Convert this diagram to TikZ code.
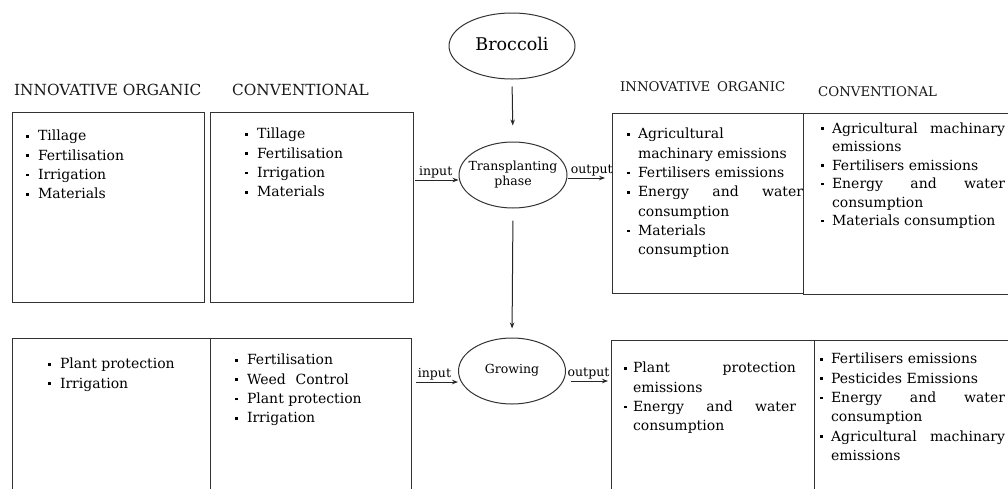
\documentclass[tikz,border=0pt]{standalone}
\usepackage{fontspec}
\setmainfont{DejaVu Serif}
\usetikzlibrary{shapes.geometric,arrows.meta}
\newlength\bhang
\newcommand\bul{\raisebox{0.22em}{\rule{2.6pt}{2.6pt}}}
\newcommand\itm[1]{\par\noindent\hangindent=\bhang\hangafter=1\strut\makebox[\bhang][l]{\bul}#1\par}
\newcommand\inell[1]{\makebox[0pt][c]{\begin{tabular}{@{}c@{}}#1\end{tabular}}}
\tikzset{
 box/.style={draw=black!80, line width=1pt, rectangle, inner sep=0, outer sep=0, anchor=north west},
 list/.style={anchor=north west, inner sep=0, outer sep=0, align=justify, font=\fontsize{14}{19.3}\selectfont, text=black},
 hdr/.style={anchor=west, inner sep=0, font=\fontsize{15.3}{18}\selectfont, text=black!90},
 hdrs/.style={anchor=west, inner sep=0, font=\fontsize{13.3}{16}\selectfont, text=black!90},
 phase/.style={ellipse, draw=black!80, line width=1pt, inner sep=0, font=\fontsize{12.5}{14.5}\selectfont},
 conn/.style={-{Stealth[length=6pt,width=4.5pt]}, line width=1pt, draw=black!85},
 lbl/.style={font=\fontsize{12.5}{14}\selectfont, inner sep=1.5pt}
}
\begin{document}
\begin{tikzpicture}[x=1pt,y=-1pt]
\useasboundingbox[fill=white] (0,0) rectangle (1008,488);
% headers
\node[hdr] (h1) at (14,90) {INNOVATIVE ORGANIC};
\node[hdr] (h2) at (232,90) {CONVENTIONAL};
\node[hdrs] (h3) at (620,87) {INNOVATIVE\hspace{0.5em}ORGANIC};
\node[hdrs] (h4) at (818,92) {CONVENTIONAL};
% boxes
\node[box, minimum width=192, minimum height=190] (b1) at (12,112) {};
\node[box, minimum width=203, minimum height=190] (b2) at (210,112) {};
\node[box, minimum width=198, minimum height=170] (b3) at (12,338) {};
\node[box, minimum width=201, minimum height=170] (b4) at (210,338) {};
\node[box, minimum width=191, minimum height=180] (b5) at (612,113) {};
\node[box, minimum width=220, minimum height=181] (b6) at (803,113) {};
\node[box, minimum width=203, minimum height=170] (b7) at (611,340) {};
\node[box, minimum width=210, minimum height=170] (b8) at (814,340) {};
% lists
\node[list, text width=178] (t1) at (26,121.5) {\setlength\bhang{12pt}%
\itm{Tillage}\itm{Fertilisation}\itm{Irrigation}\itm{Materials}};
\node[list, text width=165] (t2) at (245,119.5) {\setlength\bhang{12pt}%
\itm{Tillage}\itm{Fertilisation}\itm{Irrigation}\itm{Materials}};
\node[list, text width=160] (t3) at (48,349.5) {\setlength\bhang{12pt}%
\itm{Plant protection}\itm{Irrigation}};
\node[list, text width=170] (t4) at (235,345.5) {\setlength\bhang{12pt}%
\itm{Fertilisation}\itm{Weed\hspace{0.7em}Control}\itm{Plant protection}\itm{Irrigation}};
\node[list, text width=176] (t5) at (627,119.5) {\setlength\bhang{11pt}%
\itm{Agricultural\newline machinary emissions}\itm{Fertilisers emissions}%
\itm{Energy and water\linebreak consumption}\itm{Materials\newline consumption}};
\node[list, text width=184, font=\fontsize{14}{18.5}\selectfont] (t6) at (821,114.5) {\setlength\bhang{11pt}%
\itm{Agricultural machinary\linebreak emissions}\itm{Fertilisers emissions}%
\itm{Energy and water\linebreak consumption}\itm{Materials consumption}};
\node[list, text width=172] (t7) at (624,353.5) {\setlength\bhang{9pt}%
\itm{Plant protection\linebreak emissions}\itm{Energy and water\linebreak consumption}};
\node[list, text width=185] (t8) at (820,344.5) {\setlength\bhang{11pt}%
\itm{Fertilisers emissions}\itm{Pesticides Emissions}%
\itm{Energy and water\linebreak consumption}\itm{Agricultural machinary\linebreak emissions}};
% phases
\node[phase, minimum width=126, minimum height=66, font=\fontsize{17.5}{20}\selectfont] (broc) at (512,46) {\inell{Broccoli}};
\node[phase, minimum width=108, minimum height=66] (trans) at (513,175) {\inell{Transplanting\\phase}};
\node[phase, minimum width=107, minimum height=66] (grow) at (512,371) {\inell{Growing}};
% connectors
\draw[conn, shorten <=7pt, shorten >=16pt] (broc.south) -- (trans.north);
\draw[conn, shorten <=12pt, shorten >=9pt] (trans.south) -- (grow.north);
\draw[conn, shorten <=2pt] ([yshift=-5pt]trans.west -| b2.east) -- ([yshift=-5pt]trans.west)
  node[lbl, midway, above] {input};
\draw[conn, shorten >=7pt] ([yshift=-3pt]trans.east) -- ([yshift=-3pt]trans.east -| b5.west)
  node[lbl, midway, above, xshift=2pt] {output};
\draw[conn, shorten <=5pt] ([yshift=-11pt]grow.west -| b4.east) -- ([yshift=-11pt]grow.west)
  node[lbl, midway, above] {input};
\draw[conn, shorten <=5pt, shorten >=3pt] ([yshift=-10pt]grow.east) -- ([yshift=-10pt]grow.east -| b7.west)
  node[lbl, midway, above] {output};
\end{tikzpicture}
\end{document}
